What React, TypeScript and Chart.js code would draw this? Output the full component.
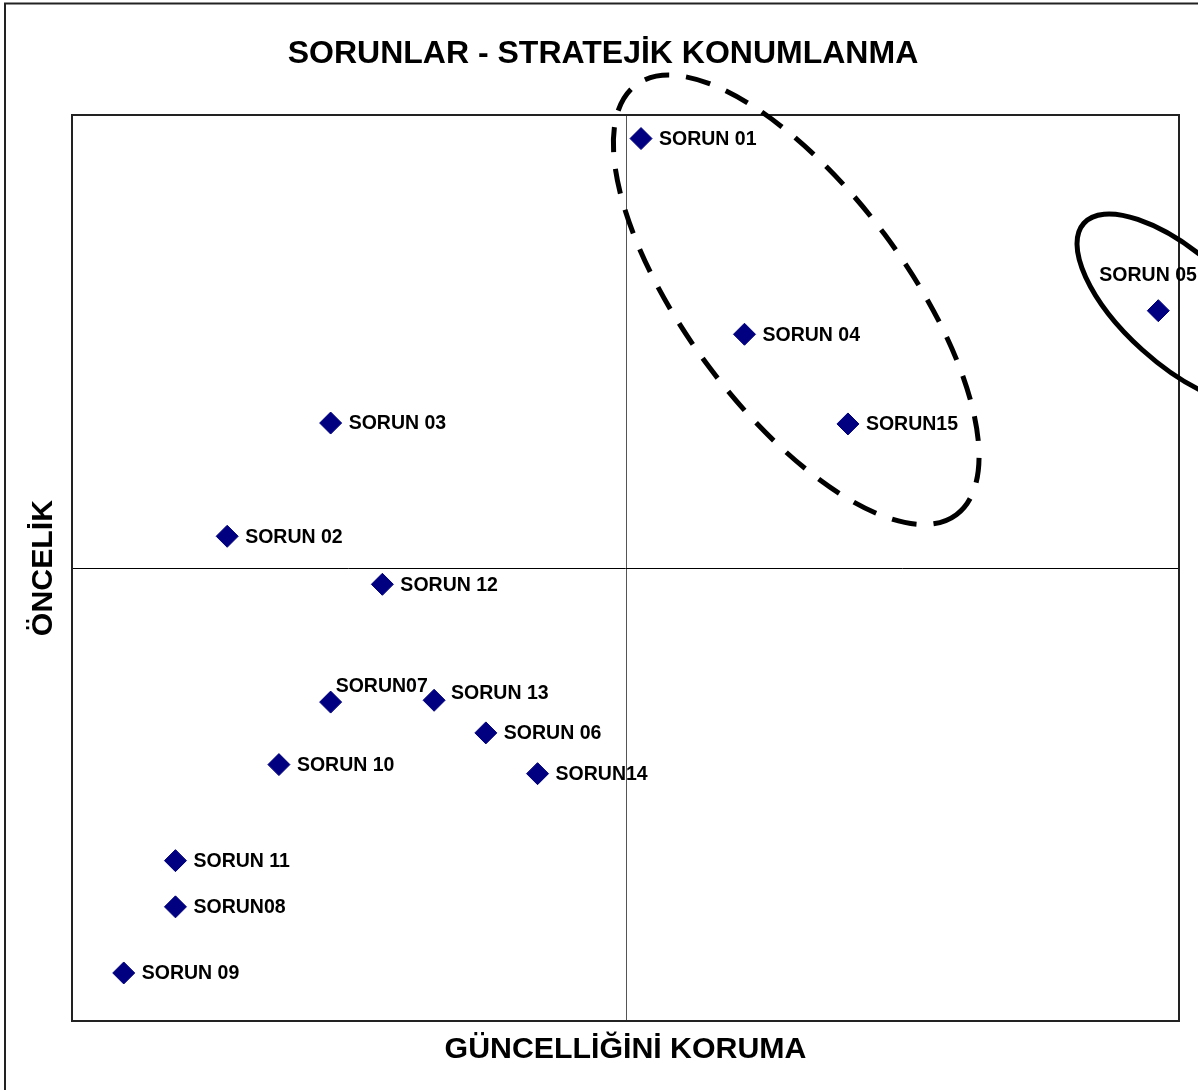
import React, { useEffect, useRef } from "react";
import { Chart, registerables } from "chart.js";

Chart.register(...registerables);

// ---- data ----
const labels = [
  "SORUN 01", "SORUN 02", "SORUN 03", "SORUN 04", "SORUN 05",
  "SORUN 06", "SORUN07", "SORUN08", "SORUN 09", "SORUN 10",
  "SORUN 11", "SORUN 12", "SORUN 13", "SORUN14", "SORUN15",
];
const xValues = [11, 3, 5, 13, 21, 8, 5, 2, 1, 4, 2, 6, 7, 9, 15];
const yValues = [97.4, 53.5, 66.0, 75.8, 78.4, 31.8, 35.2, 12.6, 5.3, 28.3, 17.7, 48.2, 35.4, 27.3, 65.9];

const xMin = 0;
const xMax = 21.4;
const yMin = 0;
const yMax = 100;
const xMid = 10.7;
const yMid = 50;

const chartTitle = "SORUNLAR - STRATEJİK KONUMLANMA";
const xTitle = "GÜNCELLİĞİNİ KORUMA";
const yTitle = "ÖNCELİK";

// label placement keywords (style)
const placement: Record<string, string> = {
  "SORUN 05": "aboveLeft",
  "SORUN07": "above",
  "SORUN 13": "rightRaised",
};

// highlight groups (centres in data units)
const groups = [
  { x: 14.0, y: 79.6, rx: 268, ry: 110, rot: 53.3, dashed: true },
  { x: 21.4, y: 78.6, rx: 128, ry: 55, rot: 42, dashed: false },
];

const FONT = '"Liberation Sans", Arial, Helvetica, sans-serif';

const overlay = {
  id: "overlay",
  beforeDraw(chart: any) {
    const ctx = chart.ctx;
    ctx.save();
    ctx.fillStyle = "#ffffff";
    ctx.fillRect(0, 0, chart.width, chart.height);
    ctx.restore();
  },
  beforeDatasetsDraw(chart: any) {
    const ctx = chart.ctx;
    const { left, top, right, bottom } = chart.chartArea;
    const xs = chart.scales.x;
    const ys = chart.scales.y;
    ctx.save();
    // quadrant lines
    const vx = Math.round(xs.getPixelForValue(xMid)) + 0.5;
    const hy = Math.round(ys.getPixelForValue(yMid)) + 0.5;
    ctx.lineWidth = 1;
    ctx.strokeStyle = "#555555";
    ctx.beginPath();
    ctx.moveTo(vx, top);
    ctx.lineTo(vx, bottom);
    ctx.stroke();
    ctx.strokeStyle = "#000000";
    ctx.beginPath();
    ctx.moveTo(left, hy);
    ctx.lineTo(right, hy);
    ctx.stroke();
    // plot border
    ctx.lineWidth = 2;
    ctx.strokeStyle = "#222222";
    ctx.strokeRect(left, top, right - left, bottom - top);
    ctx.restore();
  },
  afterDatasetsDraw(chart: any) {
    const ctx = chart.ctx;
    const { left, right, bottom } = chart.chartArea;
    const xs = chart.scales.x;
    const ys = chart.scales.y;
    ctx.save();
    // point labels
    ctx.font = `bold 19.5px ${FONT}`;
    ctx.fillStyle = "#000000";
    ctx.textBaseline = "middle";
    ctx.textAlign = "left";
    labels.forEach((lab, i) => {
      const px = xs.getPixelForValue(xValues[i]);
      const py = ys.getPixelForValue(yValues[i]);
      const p = placement[lab] || "right";
      let tx = px + 18;
      let ty = py;
      if (p === "above") { tx = px + 5; ty = py - 16; }
      else if (p === "aboveLeft") { tx = px - 59; ty = py - 36; }
      else if (p === "rightRaised") { tx = px + 17; ty = py - 8; }
      ctx.fillText(lab, tx, ty + 1);
    });
    // ellipses
    ctx.strokeStyle = "#000000";
    groups.forEach((g) => {
      const cx = xs.getPixelForValue(g.x);
      const cy = ys.getPixelForValue(g.y);
      ctx.beginPath();
      ctx.lineWidth = 5;
      ctx.setLineDash(g.dashed ? [25, 17] : []);
      ctx.ellipse(cx, cy, g.rx, g.ry, (g.rot * Math.PI) / 180, 0, Math.PI * 2);
      ctx.stroke();
    });
    ctx.setLineDash([]);
    // titles
    ctx.textAlign = "center";
    ctx.textBaseline = "middle";
    ctx.font = `bold 32px ${FONT}`;
    ctx.fillText(chartTitle, 603, 54);
    ctx.font = `bold 30.3px ${FONT}`;
    ctx.fillText(xTitle, (left + right) / 2, bottom + 29);
    ctx.save();
    ctx.translate(left - 28, ys.getPixelForValue(yMid));
    ctx.rotate(-Math.PI / 2);
    ctx.fillText(yTitle, 0, 0);
    ctx.restore();
    // outer chart border
    ctx.lineWidth = 2;
    ctx.strokeStyle = "#222222";
    ctx.strokeRect(5, 3.5, 1400, 1400);
    ctx.restore();
  },
};

export default function App() {
  const ref = useRef<HTMLCanvasElement>(null);
  useEffect(() => {
    if (!ref.current) return;
    const chart = new Chart(ref.current, {
      type: "scatter",
      data: {
        datasets: [
          {
            label: "Sorunlar",
            data: xValues.map((x, i) => ({ x, y: yValues[i] })),
            pointStyle: "rectRot",
            pointRadius: 11,
            pointHoverRadius: 11,
            backgroundColor: "#000080",
            borderColor: "#000080",
            borderWidth: 1,
          },
        ],
      },
      options: {
        responsive: false,
        animation: false,
        layout: { padding: { left: 72, top: 115, right: 19, bottom: 69 } },
        plugins: {
          legend: { display: false },
          tooltip: { enabled: false },
          title: { display: false },
        },
        scales: {
          x: { type: "linear", min: xMin, max: xMax, display: false },
          y: { type: "linear", min: yMin, max: yMax, display: false },
        },
      },
      plugins: [overlay],
    });
    return () => chart.destroy();
  }, []);
  return (
    <div style={{ position: "absolute", left: 0, top: 0, width: 1198, height: 1090, overflow: "hidden" }}>
      <canvas ref={ref} width={1198} height={1090} style={{ display: "block" }} />
    </div>
  );
}
